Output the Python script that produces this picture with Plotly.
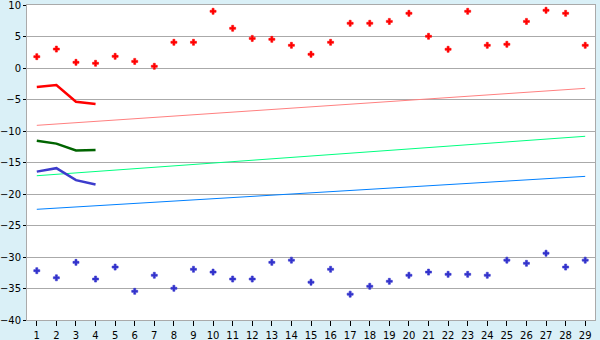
import plotly.graph_objects as go

cats = list(range(1, 30))
red_pts = [1.8, 3.0, 0.9, 0.75, 1.85, 1.05, 0.27, 4.08, 4.08, 9.0, 6.3, 4.7, 4.55, 3.6, 2.17,
           4.08, 7.1, 7.1, 7.4, 8.68, 5.03, 2.97, 9.0, 3.6, 3.76, 7.4, 9.16, 8.68, 3.6]
blue_pts = [-32.17, -33.3, -30.85, -33.5, -31.6, -35.45, -32.9, -34.97, -31.95, -32.4, -33.5,
            -33.5, -30.85, -30.5, -34.0, -31.95, -35.9, -34.65, -33.86, -32.9, -32.4, -32.75,
            -32.75, -32.9, -30.5, -31.0, -29.4, -31.6, -30.5]
short_x = [1, 2, 3, 4]
red_line = [-3.0, -2.7, -5.35, -5.7]
green_line = [-11.55, -12.0, -13.1, -13.0]
blue_line = [-16.45, -15.9, -17.8, -18.5]
trend_x = [1, 29]
pink_trend = [-9.1, -3.23]
green_trend = [-17.1, -10.84]
blue_trend = [-22.43, -17.2]
ytick_vals = [10, 5, 0, -5, -10, -15, -20, -25, -30, -35, -40]

fig = go.Figure()
fig.add_trace(go.Scatter(x=trend_x, y=pink_trend, mode="lines", line=dict(color="#FF8080", width=1)))
fig.add_trace(go.Scatter(x=trend_x, y=green_trend, mode="lines", line=dict(color="#00FF80", width=1)))
fig.add_trace(go.Scatter(x=trend_x, y=blue_trend, mode="lines", line=dict(color="#0080FF", width=1)))
fig.add_trace(go.Scatter(x=short_x, y=red_line, mode="lines", line=dict(color="#FF0000", width=2.5)))
fig.add_trace(go.Scatter(x=short_x, y=green_line, mode="lines", line=dict(color="#006400", width=2.5)))
fig.add_trace(go.Scatter(x=short_x, y=blue_line, mode="lines", line=dict(color="#3C3CCC", width=2.5)))
fig.add_trace(go.Scatter(x=cats, y=red_pts, mode="markers",
                         marker=dict(symbol="cross", size=5, color="#FF0000",
                                     line=dict(width=0.6, color="#FF0000"))))
fig.add_trace(go.Scatter(x=cats, y=blue_pts, mode="markers",
                         marker=dict(symbol="cross", size=5, color="#3333CC",
                                     line=dict(width=0.6, color="#3333CC"))))

fig.update_layout(
    width=600, height=340,
    margin=dict(l=27, r=5, t=5, b=20),
    paper_bgcolor="#DAF0F7",
    plot_bgcolor="#FFFFFF",
    showlegend=False,
    font=dict(family="DejaVu Sans", size=10, color="#000000"),
)
fig.update_xaxes(
    range=[0.5, 29.5], tickmode="array", tickvals=cats, ticktext=[str(c) for c in cats],
    showgrid=False, zeroline=False, showline=True, linecolor="#AAAAAA", linewidth=1,
    mirror=True, ticks="outside", ticklen=5, tickcolor="#000000", tickwidth=1,
    automargin=False, ticklabeloverflow="allow", ticklabelstandoff=1,
)
fig.update_yaxes(
    range=[-40, 10], tickmode="array", tickvals=ytick_vals,
    showgrid=True, gridcolor="#AAAAAA", gridwidth=1, zeroline=False,
    showline=True, linecolor="#AAAAAA", linewidth=1, mirror=True,
    ticks="outside", ticklen=3, tickcolor="#000000",
    automargin=False, ticklabeloverflow="allow",
)
fig.write_html("out.html")
